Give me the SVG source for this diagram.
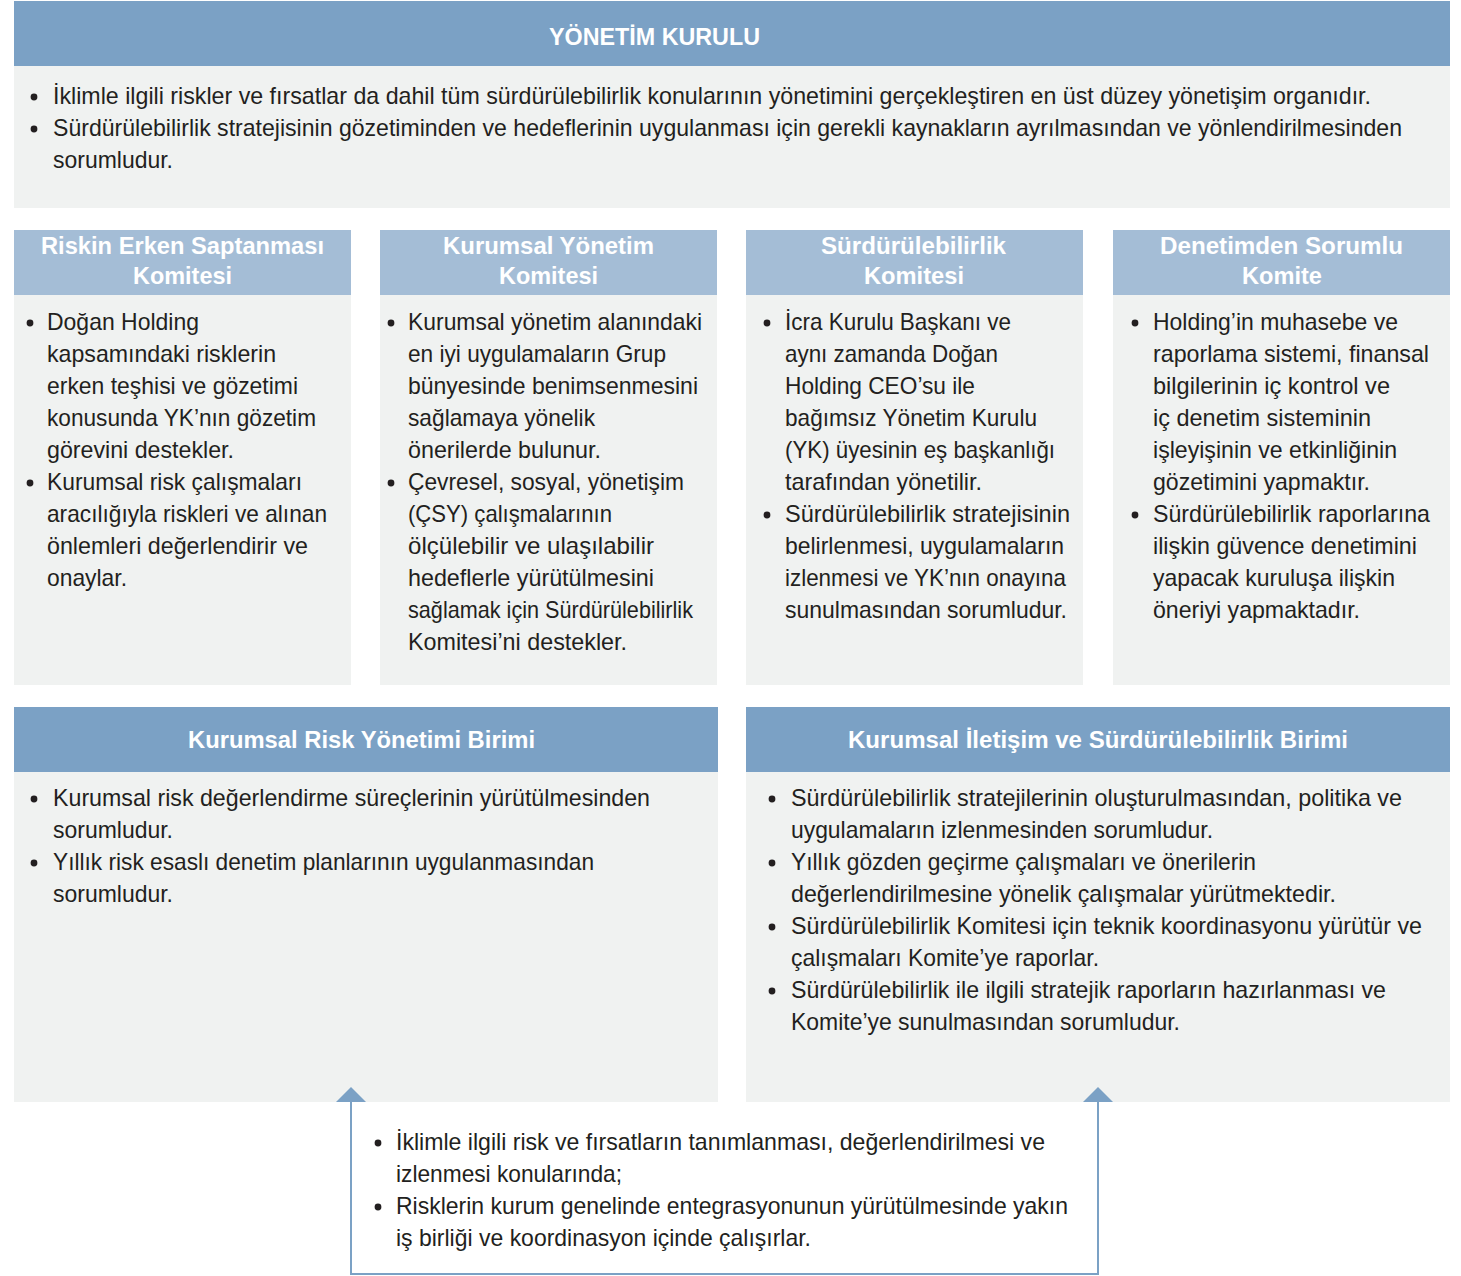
<svg xmlns="http://www.w3.org/2000/svg" width="1461" height="1276" viewBox="0 0 1461 1276">
  <defs>
    <style>
      .hd { fill: #7ba1c5; }
      .hl { fill: #a4bdd6; }
      .bd { fill: #f0f2f1; }
      .t  { font-family: "Liberation Sans", Arial, sans-serif; font-size: 24px; fill: #231f20; }
      .h  { font-family: "Liberation Sans", Arial, sans-serif; font-size: 24px; font-weight: bold; fill: #ffffff; text-anchor: middle; }
      .dot { fill: #231f20; }
      .link { fill: none; stroke: #7ba1c5; stroke-width: 2; }
    </style>
    <marker id="tip" viewBox="0 0 15 30" refX="0" refY="15" markerWidth="15" markerHeight="30" markerUnits="userSpaceOnUse" orient="auto-start-reverse">
      <path d="M0,0 L15,15 L0,30 z" fill="#7ba1c5"/>
    </marker>
  </defs>

  <!-- Board of directors -->
  <g id="yonetim-kurulu">
    <rect class="hd" x="14" y="1" width="1436" height="65"/>
    <rect class="bd" x="14" y="66" width="1436" height="142"/>
    <text class="h" x="654.5" y="45" textLength="211" lengthAdjust="spacingAndGlyphs">YÖNETİM KURULU</text>
    <circle class="dot" cx="34" cy="97" r="3.4"/>
    <text class="t" x="53" y="104" textLength="1318" lengthAdjust="spacingAndGlyphs">İklimle ilgili riskler ve fırsatlar da dahil tüm sürdürülebilirlik konularının yönetimini gerçekleştiren en üst düzey yönetişim organıdır.</text>
    <circle class="dot" cx="34" cy="129" r="3.4"/>
    <text class="t" x="53" y="136" textLength="1349" lengthAdjust="spacingAndGlyphs">Sürdürülebilirlik stratejisinin gözetiminden ve hedeflerinin uygulanması için gerekli kaynakların ayrılmasından ve yönlendirilmesinden</text>
    <text class="t" x="53" y="168" textLength="120" lengthAdjust="spacingAndGlyphs">sorumludur.</text>
  </g>

  <!-- Early risk detection committee -->
  <g id="riskin-erken-saptanmasi-komitesi">
    <rect class="hl" x="14" y="230" width="337" height="65"/>
    <rect class="bd" x="14" y="295" width="337" height="390"/>
    <text class="h" x="182.5" y="254" textLength="283" lengthAdjust="spacingAndGlyphs">Riskin Erken Saptanması</text>
    <text class="h" x="182.5" y="284" textLength="99" lengthAdjust="spacingAndGlyphs">Komitesi</text>
    <circle class="dot" cx="30" cy="323" r="3.4"/>
    <text class="t" x="47" y="330" textLength="152" lengthAdjust="spacingAndGlyphs">Doğan Holding</text>
    <text class="t" x="47" y="362" textLength="229" lengthAdjust="spacingAndGlyphs">kapsamındaki risklerin</text>
    <text class="t" x="47" y="394" textLength="251" lengthAdjust="spacingAndGlyphs">erken teşhisi ve gözetimi</text>
    <text class="t" x="47" y="426" textLength="269" lengthAdjust="spacingAndGlyphs">konusunda YK’nın gözetim</text>
    <text class="t" x="47" y="458" textLength="187" lengthAdjust="spacingAndGlyphs">görevini destekler.</text>
    <circle class="dot" cx="30" cy="483" r="3.4"/>
    <text class="t" x="47" y="490" textLength="255" lengthAdjust="spacingAndGlyphs">Kurumsal risk çalışmaları</text>
    <text class="t" x="47" y="522" textLength="280" lengthAdjust="spacingAndGlyphs">aracılığıyla riskleri ve alınan</text>
    <text class="t" x="47" y="554" textLength="261" lengthAdjust="spacingAndGlyphs">önlemleri değerlendirir ve</text>
    <text class="t" x="47" y="586" textLength="80" lengthAdjust="spacingAndGlyphs">onaylar.</text>
  </g>

  <!-- Corporate governance committee -->
  <g id="kurumsal-yonetim-komitesi">
    <rect class="hl" x="380" y="230" width="337" height="65"/>
    <rect class="bd" x="380" y="295" width="337" height="390"/>
    <text class="h" x="548.5" y="254" textLength="211" lengthAdjust="spacingAndGlyphs">Kurumsal Yönetim</text>
    <text class="h" x="548.5" y="284" textLength="99" lengthAdjust="spacingAndGlyphs">Komitesi</text>
    <circle class="dot" cx="391" cy="323" r="3.4"/>
    <text class="t" x="408" y="330" textLength="294" lengthAdjust="spacingAndGlyphs">Kurumsal yönetim alanındaki</text>
    <text class="t" x="408" y="362" textLength="258" lengthAdjust="spacingAndGlyphs">en iyi uygulamaların Grup</text>
    <text class="t" x="408" y="394" textLength="290" lengthAdjust="spacingAndGlyphs">bünyesinde benimsenmesini</text>
    <text class="t" x="408" y="426" textLength="187" lengthAdjust="spacingAndGlyphs">sağlamaya yönelik</text>
    <text class="t" x="408" y="458" textLength="193" lengthAdjust="spacingAndGlyphs">önerilerde bulunur.</text>
    <circle class="dot" cx="391" cy="483" r="3.4"/>
    <text class="t" x="408" y="490" textLength="276" lengthAdjust="spacingAndGlyphs">Çevresel, sosyal, yönetişim</text>
    <text class="t" x="408" y="522" textLength="204" lengthAdjust="spacingAndGlyphs">(ÇSY) çalışmalarının</text>
    <text class="t" x="408" y="554" textLength="246" lengthAdjust="spacingAndGlyphs">ölçülebilir ve ulaşılabilir</text>
    <text class="t" x="408" y="586" textLength="246" lengthAdjust="spacingAndGlyphs">hedeflerle yürütülmesini</text>
    <text class="t" x="408" y="618" textLength="285" lengthAdjust="spacingAndGlyphs">sağlamak için Sürdürülebilirlik</text>
    <text class="t" x="408" y="650" textLength="219" lengthAdjust="spacingAndGlyphs">Komitesi’ni destekler.</text>
  </g>

  <!-- Sustainability committee -->
  <g id="surdurulebilirlik-komitesi">
    <rect class="hl" x="746" y="230" width="337" height="65"/>
    <rect class="bd" x="746" y="295" width="337" height="390"/>
    <text class="h" x="913.5" y="254" textLength="185" lengthAdjust="spacingAndGlyphs">Sürdürülebilirlik</text>
    <text class="h" x="914" y="284" textLength="100" lengthAdjust="spacingAndGlyphs">Komitesi</text>
    <circle class="dot" cx="767" cy="323" r="3.4"/>
    <text class="t" x="785" y="330" textLength="226" lengthAdjust="spacingAndGlyphs">İcra Kurulu Başkanı ve</text>
    <text class="t" x="785" y="362" textLength="213" lengthAdjust="spacingAndGlyphs">aynı zamanda Doğan</text>
    <text class="t" x="785" y="394" textLength="190" lengthAdjust="spacingAndGlyphs">Holding CEO’su ile</text>
    <text class="t" x="785" y="426" textLength="252" lengthAdjust="spacingAndGlyphs">bağımsız Yönetim Kurulu</text>
    <text class="t" x="785" y="458" textLength="270" lengthAdjust="spacingAndGlyphs">(YK) üyesinin eş başkanlığı</text>
    <text class="t" x="785" y="490" textLength="197" lengthAdjust="spacingAndGlyphs">tarafından yönetilir.</text>
    <circle class="dot" cx="767" cy="515" r="3.4"/>
    <text class="t" x="785" y="522" textLength="285" lengthAdjust="spacingAndGlyphs">Sürdürülebilirlik stratejisinin</text>
    <text class="t" x="785" y="554" textLength="279" lengthAdjust="spacingAndGlyphs">belirlenmesi, uygulamaların</text>
    <text class="t" x="785" y="586" textLength="281" lengthAdjust="spacingAndGlyphs">izlenmesi ve YK’nın onayına</text>
    <text class="t" x="785" y="618" textLength="282" lengthAdjust="spacingAndGlyphs">sunulmasından sorumludur.</text>
  </g>

  <!-- Audit committee -->
  <g id="denetimden-sorumlu-komite">
    <rect class="hl" x="1113" y="230" width="337" height="65"/>
    <rect class="bd" x="1113" y="295" width="337" height="390"/>
    <text class="h" x="1281.5" y="254" textLength="243" lengthAdjust="spacingAndGlyphs">Denetimden Sorumlu</text>
    <text class="h" x="1282" y="284" textLength="80" lengthAdjust="spacingAndGlyphs">Komite</text>
    <circle class="dot" cx="1135" cy="323" r="3.4"/>
    <text class="t" x="1153" y="330" textLength="245" lengthAdjust="spacingAndGlyphs">Holding’in muhasebe ve</text>
    <text class="t" x="1153" y="362" textLength="276" lengthAdjust="spacingAndGlyphs">raporlama sistemi, finansal</text>
    <text class="t" x="1153" y="394" textLength="237" lengthAdjust="spacingAndGlyphs">bilgilerinin iç kontrol ve</text>
    <text class="t" x="1153" y="426" textLength="218" lengthAdjust="spacingAndGlyphs">iç denetim sisteminin</text>
    <text class="t" x="1153" y="458" textLength="244" lengthAdjust="spacingAndGlyphs">işleyişinin ve etkinliğinin</text>
    <text class="t" x="1153" y="490" textLength="217" lengthAdjust="spacingAndGlyphs">gözetimini yapmaktır.</text>
    <circle class="dot" cx="1135" cy="515" r="3.4"/>
    <text class="t" x="1153" y="522" textLength="277" lengthAdjust="spacingAndGlyphs">Sürdürülebilirlik raporlarına</text>
    <text class="t" x="1153" y="554" textLength="264" lengthAdjust="spacingAndGlyphs">ilişkin güvence denetimini</text>
    <text class="t" x="1153" y="586" textLength="242" lengthAdjust="spacingAndGlyphs">yapacak kuruluşa ilişkin</text>
    <text class="t" x="1153" y="618" textLength="207" lengthAdjust="spacingAndGlyphs">öneriyi yapmaktadır.</text>
  </g>

  <!-- Enterprise risk management unit -->
  <g id="kurumsal-risk-yonetimi-birimi">
    <rect class="hd" x="14" y="707" width="704" height="65"/>
    <rect class="bd" x="14" y="772" width="704" height="330"/>
    <text class="h" x="361.5" y="748" textLength="347" lengthAdjust="spacingAndGlyphs">Kurumsal Risk Yönetimi Birimi</text>
    <circle class="dot" cx="34" cy="799" r="3.4"/>
    <text class="t" x="53" y="806" textLength="597" lengthAdjust="spacingAndGlyphs">Kurumsal risk değerlendirme süreçlerinin yürütülmesinden</text>
    <text class="t" x="53" y="838" textLength="120" lengthAdjust="spacingAndGlyphs">sorumludur.</text>
    <circle class="dot" cx="34" cy="863" r="3.4"/>
    <text class="t" x="53" y="870" textLength="541" lengthAdjust="spacingAndGlyphs">Yıllık risk esaslı denetim planlarının uygulanmasından</text>
    <text class="t" x="53" y="902" textLength="120" lengthAdjust="spacingAndGlyphs">sorumludur.</text>
  </g>

  <!-- Corporate communication and sustainability unit -->
  <g id="kurumsal-iletisim-ve-surdurulebilirlik-birimi">
    <rect class="hd" x="746" y="707" width="704" height="65"/>
    <rect class="bd" x="746" y="772" width="704" height="330"/>
    <text class="h" x="1098" y="748" textLength="500" lengthAdjust="spacingAndGlyphs">Kurumsal İletişim ve Sürdürülebilirlik Birimi</text>
    <circle class="dot" cx="772" cy="799" r="3.4"/>
    <text class="t" x="791" y="806" textLength="611" lengthAdjust="spacingAndGlyphs">Sürdürülebilirlik stratejilerinin oluşturulmasından, politika ve</text>
    <text class="t" x="791" y="838" textLength="422" lengthAdjust="spacingAndGlyphs">uygulamaların izlenmesinden sorumludur.</text>
    <circle class="dot" cx="772" cy="863" r="3.4"/>
    <text class="t" x="791" y="870" textLength="465" lengthAdjust="spacingAndGlyphs">Yıllık gözden geçirme çalışmaları ve önerilerin</text>
    <text class="t" x="791" y="902" textLength="545" lengthAdjust="spacingAndGlyphs">değerlendirilmesine yönelik çalışmalar yürütmektedir.</text>
    <circle class="dot" cx="772" cy="927" r="3.4"/>
    <text class="t" x="791" y="934" textLength="631" lengthAdjust="spacingAndGlyphs">Sürdürülebilirlik Komitesi için teknik koordinasyonu yürütür ve</text>
    <text class="t" x="791" y="966" textLength="308" lengthAdjust="spacingAndGlyphs">çalışmaları Komite’ye raporlar.</text>
    <circle class="dot" cx="772" cy="991" r="3.4"/>
    <text class="t" x="791" y="998" textLength="595" lengthAdjust="spacingAndGlyphs">Sürdürülebilirlik ile ilgili stratejik raporların hazırlanması ve</text>
    <text class="t" x="791" y="1030" textLength="389" lengthAdjust="spacingAndGlyphs">Komite’ye sunulmasından sorumludur.</text>
  </g>

  <!-- Two-way link between the units -->
  <g id="connectors">
    <path class="link" d="M351,1102 V1274 H1098 V1102" marker-start="url(#tip)" marker-end="url(#tip)"/>
  </g>

  <!-- Shared responsibilities of both units -->
  <g id="ortak-calisma">
    <circle class="dot" cx="378" cy="1143" r="3.4"/>
    <text class="t" x="396" y="1150" textLength="649" lengthAdjust="spacingAndGlyphs">İklimle ilgili risk ve fırsatların tanımlanması, değerlendirilmesi ve</text>
    <text class="t" x="396" y="1182" textLength="226" lengthAdjust="spacingAndGlyphs">izlenmesi konularında;</text>
    <circle class="dot" cx="378" cy="1207" r="3.4"/>
    <text class="t" x="396" y="1214" textLength="672" lengthAdjust="spacingAndGlyphs">Risklerin kurum genelinde entegrasyonunun yürütülmesinde yakın</text>
    <text class="t" x="396" y="1246" textLength="415" lengthAdjust="spacingAndGlyphs">iş birliği ve koordinasyon içinde çalışırlar.</text>
  </g>
</svg>
